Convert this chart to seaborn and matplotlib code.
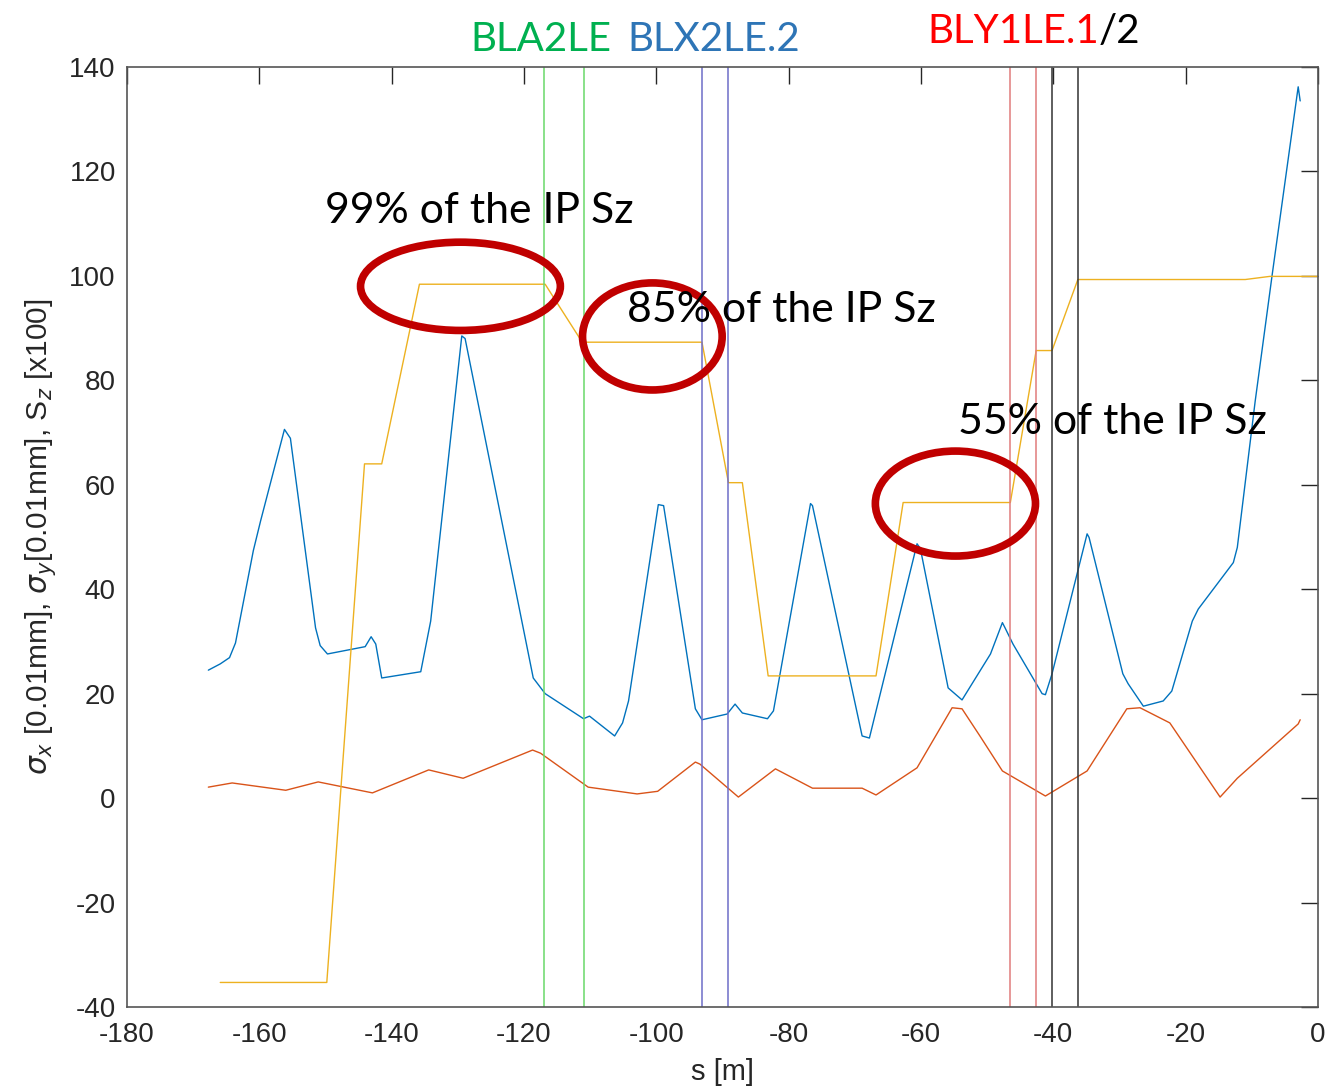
import numpy as np
import pandas as pd
import matplotlib
matplotlib.use('Agg')
import matplotlib.pyplot as plt
from matplotlib.patches import Ellipse
import seaborn as sns

# ---- data ----
sx_s = [-167.7, -165.9, -164.5, -163.6, -160.9, -159.8, -156.2, -155.3, -151.5, -150.8,
        -149.7, -144.0, -143.1, -142.4, -141.5, -135.6, -134.1, -129.4, -128.9, -118.6,
        -116.8, -111.0, -110.1, -106.3, -105.1, -104.2, -99.7, -98.9, -94.1, -93.1,
        -89.3, -88.1, -87.0, -83.2, -82.3, -76.7, -76.4, -68.9, -67.8, -60.6,
        -60.1, -55.9, -53.8, -49.5, -47.7, -47.3, -46.1, -41.7, -41.2, -40.2,
        -34.9, -34.6, -29.5, -28.7, -26.4, -23.4, -22.1, -19.0, -18.1, -12.8,
        -12.2, -9.5, -6.9, -3.0, -2.7]
sx_v = [24.5, 25.7, 26.9, 29.7, 47.4, 53.1, 70.6, 68.9, 32.6, 29.2,
        27.6, 29.0, 30.9, 29.5, 23.0, 24.2, 33.9, 88.5, 88.0, 23.0,
        20.0, 15.2, 15.7, 11.9, 14.4, 18.6, 56.2, 56.0, 17.1, 15.0,
        16.1, 18.0, 16.3, 15.2, 16.7, 56.4, 56.0, 11.9, 11.5, 48.7,
        47.8, 21.1, 18.8, 27.6, 33.6, 32.6, 29.5, 20.0, 19.8, 23.8,
        50.6, 49.9, 23.8, 21.9, 17.6, 18.6, 20.5, 33.9, 36.2, 45.1,
        48.0, 76.0, 100.5, 136.2, 133.5]

sy_s = [-167.7, -164.1, -156.0, -151.1, -142.9, -134.4, -129.2, -118.7, -117.5, -110.3,
        -102.9, -99.8, -94.1, -93.4, -87.6, -82.0, -76.4, -68.9, -66.8, -60.6,
        -55.3, -53.8, -51.1, -47.7, -41.2, -34.9, -28.9, -26.9, -22.4, -14.8,
        -12.2, -3.0, -2.7]
sy_v = [2.1, 2.9, 1.5, 3.1, 1.0, 5.4, 3.8, 9.2, 8.6, 2.1,
        0.8, 1.3, 6.9, 6.5, 0.2, 5.6, 1.9, 1.9, 0.6, 5.8,
        17.3, 17.1, 11.9, 5.2, 0.4, 5.2, 17.1, 17.3, 14.4, 0.2,
        3.8, 14.2, 15.0]

sz_s = [-165.9, -149.8, -144.1, -141.5, -135.8, -116.8, -111.2, -93.1, -89.1, -87.0,
        -83.1, -66.8, -62.7, -46.5, -42.6, -40.2, -36.3, -11.0, -7.3, 0.0]
sz_v = [-35.3, -35.3, 64.0, 64.0, 98.4, 98.4, 87.3, 87.3, 60.4, 60.4,
        23.4, 23.4, 56.6, 56.6, 85.7, 85.7, 99.3, 99.3, 99.9, 99.9]

# collimator positions
bla2le = [-116.9, -110.9]
blx2le = [-93.1, -89.1]
bly1le = [-46.5, -42.6]
bly1le_2 = [-40.2, -36.2]

notes = ['99% of the IP Sz', '85% of the IP Sz', '55% of the IP Sz']
note_pos = [(-150.0, 112.4), (-104.4, 93.4), (-54.4, 72.1)]
ellipses = [(-129.6, 98.0, 30.2, 16.9), (-100.6, 88.4, 21.1, 20.5), (-54.8, 56.4, 24.2, 20.1)]

sns.set_theme(style='white')
plt.rcParams['font.family'] = ['Liberation Sans', 'DejaVu Sans']
plt.rcParams['axes.unicode_minus'] = False

fig = plt.figure(figsize=(13.28, 10.89), dpi=100)
ax = fig.add_axes([0.0956, 0.0753, 0.8969, 0.8632])

df_x = pd.DataFrame({'s': sx_s, 'v': sx_v})
df_y = pd.DataFrame({'s': sy_s, 'v': sy_v})
df_z = pd.DataFrame({'s': sz_s, 'v': sz_v})
sns.lineplot(data=df_x, x='s', y='v', ax=ax, color='#0072BD', lw=1.0, estimator=None)
sns.lineplot(data=df_y, x='s', y='v', ax=ax, color='#D95319', lw=1.0, estimator=None)
sns.lineplot(data=df_z, x='s', y='v', ax=ax, color='#EDB120', lw=1.0, estimator=None)

for xv in bla2le:
    ax.axvline(xv, color='#6ad86a', lw=1.1)
for xv in blx2le:
    ax.axvline(xv, color='#6e6ec8', lw=1.1)
for xv in bly1le:
    ax.axvline(xv, color='#e07c7c', lw=1.1)
for xv in bly1le_2:
    ax.axvline(xv, color='#333333', lw=1.1)

for (cx, cy, w, h) in ellipses:
    ax.add_patch(Ellipse((cx, cy), w, h, fill=False, edgecolor='#c00000', lw=5.5, zorder=5))

for txt, (tx, ty) in zip(notes, note_pos):
    ax.text(tx, ty, txt, fontsize=30.8, family=['Lato', 'DejaVu Sans'], va='center', ha='left',
            color='black', zorder=6)

# labels above the axes
lab_kw = dict(fontsize=29, family=['Lato', 'DejaVu Sans'], va='center', ha='left', clip_on=False)
ax.text(-128.1, 145.3, 'BLA2LE', color='#00b050', **lab_kw)
ax.text(-104.4, 145.3, 'BLX2LE.2', color='#2e75b6', **lab_kw)
t1 = ax.text(-59.1, 146.8, 'BLY1LE.1', color='#ff0000', **lab_kw)
ax.annotate('/2', xy=(1, 0.5), xycoords=t1, va='center', ha='left',
            fontsize=29, family=['Lato', 'DejaVu Sans'], color='black')

ax.set_xlim(-180, 0)
ax.set_ylim(-40, 140)
ax.set_xticks(np.arange(-180, 1, 20))
ax.set_yticks(np.arange(-40, 141, 20))
ax.tick_params(direction='in', length=12, width=1, colors='#262626', labelsize=20,
               top=True, right=True, labeltop=False, labelright=False)
ax.tick_params(axis='x', pad=11)
ax.tick_params(axis='y', pad=8)
for sp in ax.spines.values():
    sp.set_color('#555555')
    sp.set_linewidth(1.2)
ax.set_xlabel('s [m]', fontsize=21, color='#262626', labelpad=7)
ax.set_ylabel(r'$\sigma_x$ [0.01mm], $\sigma_y$[0.01mm], S$_z$ [x100]', fontsize=21.5,
              color='#262626', labelpad=8)

fig.savefig('out.png', dpi=100)
